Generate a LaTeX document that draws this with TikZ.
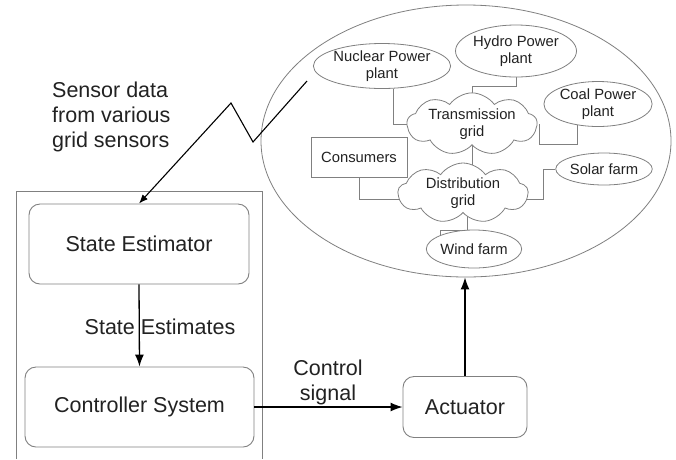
\documentclass[tikz,border=0pt]{standalone}
\usepackage{fontspec}
\setmainfont{Liberation Sans}
\usetikzlibrary{shapes.geometric,shapes.symbols,arrows.meta,backgrounds}
\definecolor{boxgray}{HTML}{808080}
\definecolor{txt}{HTML}{222222}
\tikzset{
  big/.style={font=\fontsize{21.5}{25}\selectfont, text=txt},
  small/.style={font=\fontsize{14.8}{16.5}\selectfont, text=txt, align=center},
  rbox/.style={draw=boxgray, line width=0.9pt, rounded corners=11pt, fill=white, big},
  plant/.style={draw=boxgray, line width=0.8pt, ellipse, inner sep=0pt, fill=white, small},
  cld/.style={draw=boxgray, line width=0.8pt, cloud, cloud puffs=9, cloud puff arc=110, cloud ignores aspect, fill=white, small, inner sep=0pt},
  conn/.style={draw=boxgray, line width=0.8pt},
  arr/.style={draw=black, line width=1.3pt, -{Latex[length=12pt,width=9pt]}}
}
\begin{document}
\begin{tikzpicture}[x=1pt,y=-1pt]
\useasboundingbox (0,0) rectangle (676,459);
% outer container
\draw[boxgray, line width=0.9pt] (16,459) -- (16,191) -- (262,191) -- (262,459);
% left column
\node[rbox, minimum width=220pt, minimum height=80pt] (est) at (139,244) {State Estimator};
\node[rbox, minimum width=229pt, minimum height=80pt] (ctl) at (139.5,407) {Controller System};
\node[rbox, minimum width=124pt, minimum height=61pt] (act) at (465,407) {Actuator};
% grid ellipse
\node[draw=boxgray, line width=0.8pt, ellipse, minimum width=410pt, minimum height=272pt, inner sep=0pt] (grid) at (466,141) {};
% plants
\node[plant, minimum width=117pt, minimum height=45pt] (nuc) at (382,66) {Nuclear Power\\plant};
\node[plant, minimum width=114pt, minimum height=52pt] (hyd) at (516,51) {Hydro Power\\plant};
\node[plant, minimum width=104pt, minimum height=45pt] (coal) at (598,104) {Coal Power\\plant};
\node[plant, minimum width=78pt, minimum height=32pt] (solar) at (604,169) {Solar farm};
\node[plant, minimum width=95pt, minimum height=38pt] (wind) at (474,249) {Wind farm};
\node[draw=boxgray, line width=0.8pt, fill=white, small, minimum width=96pt, minimum height=40pt, inner sep=0pt] (cons) at (359,157) {Consumers};
\node[cld, minimum width=130pt, minimum height=60pt] (trans) at (472,124) {Transmission\\grid};
\node[cld, minimum width=130pt, minimum height=60pt] (dist) at (463,193) {Distribution\\grid};
\coordinate (k1) at (539,144);
\coordinate (k2) at (467,230);
\begin{scope}[on background layer]
\fill[white] (0,0) rectangle (676,459);
\draw[conn] ([xshift=11pt]nuc.south) |- (trans.center);
\draw[conn] (hyd.south) -- ++(0,9) -| (trans.center);
\draw[conn] (coal.225) -- (coal.225 |- k1) -- (k1) -- (k1 |- trans.center);
\draw[conn] (trans.south) -- (trans.south |- dist.center);
\draw[conn] (cons.south) |- ([yshift=-6pt]dist.center);
\draw[conn] (solar.west) -- ++(-12,0) |- ([yshift=-6pt]dist.center);
\draw[conn] ([xshift=-34pt]wind.center) |- (k2) -- (k2 |- dist.center);
\end{scope}
% arrows
\draw[arr] (est.south) -- (ctl.north);
\node[big] (selab) at (160,327) {State Estimates};
\draw[arr] (ctl.east) -- (act.west);
\node[big, align=center] (cslab) at (328,382) {Control\\signal};
\draw[arr] (act.north) -- (act.north |- grid.south);
% sensor data
\node[big, align=left, anchor=north west, inner sep=0pt] (sens) at (52,82) {Sensor data\\from various\\grid sensors};
\coordinate (s0) at (307,81);
\coordinate (s1) at (253,142);
\coordinate (s2) at (231,103);
\draw[black, line width=1.1pt, -{Latex[length=9pt,width=7pt]}] (s0) -- (s1) -- (s2) -- (est.north);
\end{tikzpicture}
\end{document}
